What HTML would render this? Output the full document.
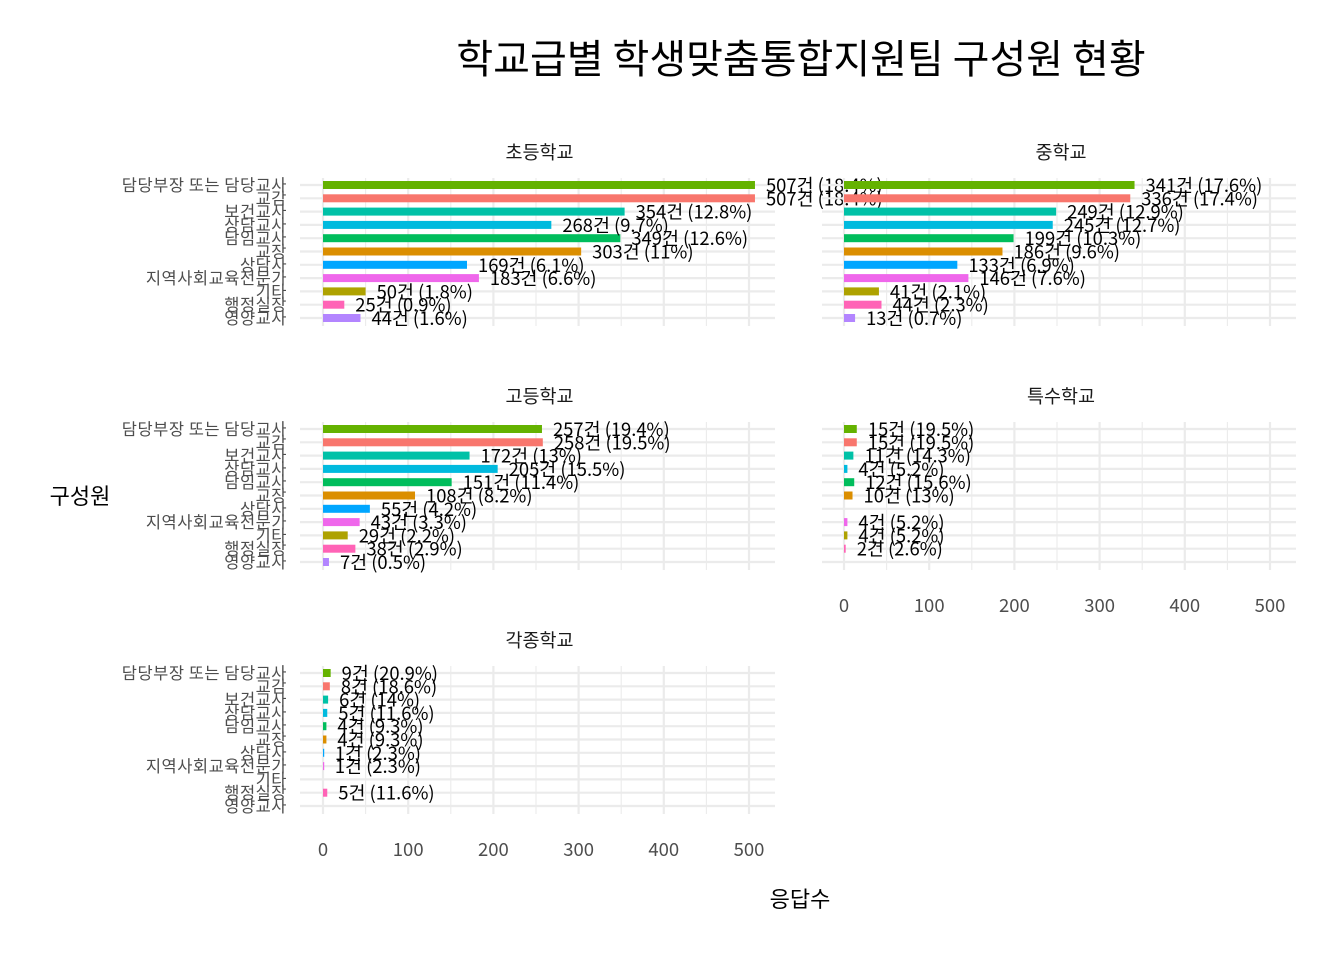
<!DOCTYPE html>
<html><head><meta charset="utf-8">
<style>
html,body{margin:0;padding:0;background:#fff;}
svg{display:block;font-family:"Noto Sans CJK KR","Liberation Sans",sans-serif;}
</style></head>
<body>
<svg id="chart" width="1344" height="960" viewBox="0 0 1344 960" xmlns="http://www.w3.org/2000/svg">
<text x="801" y="73" text-anchor="middle" font-size="40" fill="#000">학교급별 학생맞춤통합지원팀 구성원 현황</text>
<text x="80" y="504" text-anchor="middle" font-size="22" fill="#000">구성원</text>
<text x="800" y="907" text-anchor="middle" font-size="22" fill="#000">응답수</text>
<g id="plots"></g>
</svg>
<script>
const categories = ["담당부장 또는 담당교사","교감","보건교사","상담교사","담임교사","교장","상담사","지역사회교육전문가","기타","행정실장","영양교사"];
const colors = ["#64B200","#F8766D","#00C1A7","#00BADE","#00BD5C","#DB8E00","#00A6FF","#EF67EB","#AEA200","#FF63B6","#B385FF"];
const facetNames = ["초등학교","중학교","고등학교","특수학교","각종학교"];
const valuesElem = [507,507,354,268,349,303,169,183,50,25,44];
const pctElem = ["18.4%","18.4%","12.8%","9.7%","12.6%","11%","6.1%","6.6%","1.8%","0.9%","1.6%"];
const valuesMiddle = [341,336,249,245,199,186,133,146,41,44,13];
const pctMiddle = ["17.6%","17.4%","12.9%","12.7%","10.3%","9.6%","6.9%","7.6%","2.1%","2.3%","0.7%"];
const valuesHigh = [257,258,172,205,151,108,55,43,29,38,7];
const pctHigh = ["19.4%","19.5%","13%","15.5%","11.4%","8.2%","4.2%","3.3%","2.2%","2.9%","0.5%"];
const valuesSpecial = [15,15,11,4,12,10,null,4,4,2,null];
const pctSpecial = ["19.5%","19.5%","14.3%","5.2%","15.6%","13%",null,"5.2%","5.2%","2.6%",null];
const valuesOther = [9,8,6,5,4,4,1,1,null,5,null];
const pctOther = ["20.9%","18.6%","14%","11.6%","9.3%","9.3%","2.3%","2.3%",null,"11.6%",null];
const xTicks = [0,100,200,300,400,500];

const facetValues = [valuesElem,valuesMiddle,valuesHigh,valuesSpecial,valuesOther];
const facetPcts = [pctElem,pctMiddle,pctHigh,pctSpecial,pctOther];
const layout = [
  {x0:323, top:178, left:300, right:775, ylab:true, xlab:false},
  {x0:844, top:178, left:822, right:1296, ylab:false, xlab:false},
  {x0:323, top:422, left:300, right:775, ylab:true, xlab:false},
  {x0:844, top:422, left:822, right:1296, ylab:false, xlab:true},
  {x0:323, top:666, left:300, right:775, ylab:true, xlab:true}
];
const NS = "http://www.w3.org/2000/svg";
const g = document.getElementById("plots");
function mk(tag, attrs, parent){const e=document.createElementNS(NS,tag);for(const k in attrs)e.setAttribute(k,attrs[k]);(parent||g).appendChild(e);return e;}
const scale = (749-323)/500;
const step = 13.3;
const PH = 148;

facetNames.forEach((name,fi)=>{
  const L = layout[fi];
  const xs = v => L.x0 + v*scale;
  const ys = i => L.top + 7 + i*step;
  const pg = mk("g",{});
  
  
  for (let t=0;t<=500;t+=50){
    const ln = mk("line",{x1:xs(t),x2:xs(t),y1:L.top,y2:L.top+PH,stroke:"#ebebeb","stroke-width":t%100===0?2.2:1.1},pg);
    
    
  }
  categories.forEach((c,i)=>{
    const ln = mk("line",{x1:L.left,x2:L.right,y1:ys(i),y2:ys(i),stroke:"#ebebeb","stroke-width":2.2},pg);
    
    
  });
  const st = mk("text",{x:(L.left+L.right)/2+2,y:L.top-19,"text-anchor":"middle","font-size":"18.5",fill:"#1a1a1a"},pg);
  st.textContent = name;
  
  
  if (L.ylab){
    categories.forEach((c,i)=>{
      const t = mk("text",{x:287,y:ys(i)+6,"text-anchor":"end","font-size":"16.5",fill:"#4d4d4d","letter-spacing":"0.5"},pg);
      t.textContent = c;
      
      
    });
  }
  if (L.xlab){
    xTicks.forEach(v=>{
      const t = mk("text",{x:xs(v),y:L.top+PH+42,"text-anchor":"middle","font-size":"18.5",fill:"#4d4d4d"},pg);
      t.textContent = v;
      
      
    });
  }
  const vals = facetValues[fi], pcts = facetPcts[fi];
  vals.forEach((v,i)=>{
    if (v===null) return;
    const b = mk("rect",{x:L.x0,y:ys(i)-4,width:Math.max(v*scale,1.2),height:8,fill:colors[i]},pg);
    
    
  });
  vals.forEach((v,i)=>{
    if (v===null) return;
    const t = mk("text",{x:xs(v)+11,y:ys(i)+7,"font-size":"18.4",fill:"#000"},pg);
    t.textContent = v + "건 (" + pcts[i] + ")";
    
    
  });
});
</script>
</body></html>
